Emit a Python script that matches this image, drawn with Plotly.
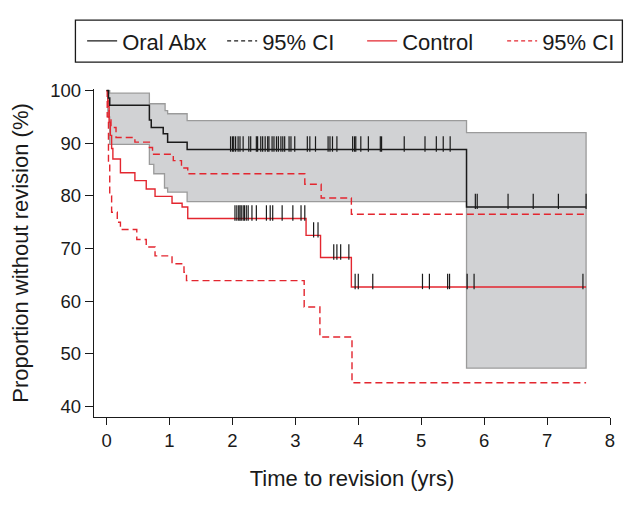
import plotly.graph_objects as go

# Kaplan-Meier step data: (time in years, % without revision)
abx_t = [0, 0.03, 0.05, 0.68, 0.71, 0.90, 0.97, 1.28, 5.72]
abx_v = [100, 98.6, 97.2, 94.4, 93.0, 91.8, 90.2, 88.8, 77.9]
abx_hi_t = [0, 0.05, 0.68, 0.93, 0.97, 1.28, 5.72]
abx_hi_v = [100, 99.5, 97.5, 96.2, 95.6, 94.3, 92.0]
abx_lo_t = [0, 0.02, 0.05, 0.68, 0.75, 0.92, 0.97, 1.28, 5.72]
abx_lo_v = [100, 95.0, 89.8, 86.0, 84.2, 81.5, 80.7, 78.9, 47.3]
abx_end = 7.62

ctl_t = [0, 0.02, 0.04, 0.06, 0.08, 0.10, 0.22, 0.45, 0.63, 0.77, 1.04, 1.20, 1.29, 3.17, 3.40, 3.89]
ctl_v = [100, 97.0, 94.0, 91.5, 89.0, 87.0, 84.4, 82.9, 81.3, 79.9, 78.6, 77.9, 75.7, 72.5, 68.3, 62.7]
ctl_hi_t = [0, 0.02, 0.04, 0.07, 0.15, 0.45, 0.68, 0.73, 1.06, 1.19, 1.29, 3.15, 3.41, 3.89]
ctl_hi_v = [100, 98.0, 95.0, 93.0, 91.1, 90.2, 89.2, 87.9, 86.7, 85.3, 84.2, 82.2, 79.6, 76.5]
ctl_lo_t = [0, 0.01, 0.03, 0.05, 0.08, 0.17, 0.22, 0.48, 0.63, 0.77, 1.04, 1.23, 1.27, 3.14, 3.39, 3.90]
ctl_lo_v = [100, 95.0, 86.0, 80.0, 76.9, 75.0, 73.6, 71.7, 70.3, 68.6, 67.1, 65.5, 63.9, 58.9, 53.2, 44.5]
ctl_end = 7.62

# censored observations
abx_cens = [1.97, 2.00, 2.02, 2.05, 2.09, 2.12, 2.17, 2.26, 2.29, 2.38, 2.40, 2.45,
            2.48, 2.52, 2.56, 2.58, 2.63, 2.66, 2.70, 2.73, 2.77, 2.80, 2.83, 2.90,
            2.93, 2.99, 3.19, 3.23, 3.32, 3.52, 3.55, 3.59, 3.66, 3.91, 3.94, 3.96,
            4.04, 4.16, 4.35, 4.37, 4.73, 5.06, 5.24, 5.35, 5.46,
            5.86, 5.89, 6.38, 6.78, 7.18, 7.62]
ctl_cens = [2.04, 2.07, 2.10, 2.12, 2.14, 2.17, 2.19, 2.22, 2.25, 2.31, 2.38, 2.54,
            2.60, 2.64, 2.79, 2.96, 3.09, 3.15, 3.29, 3.36, 3.61, 3.66, 3.72, 3.85,
            3.95, 4.00, 4.23, 5.02, 5.13, 5.42, 5.45, 5.73, 5.84, 7.57]

RED = "#e3262f"
INK = "#1a1a1a"
FONT = "Liberation Sans, Arial, sans-serif"


def step_xy(t, v, end):
    # expand step function into vertices
    xs, ys = [], []
    for i in range(len(t)):
        if i > 0:
            xs.append(t[i]); ys.append(v[i - 1])
        xs.append(t[i]); ys.append(v[i])
    xs.append(end); ys.append(v[-1])
    return xs, ys


def value_at(t, v, x):
    val = v[0]
    for ti, vi in zip(t, v):
        if ti <= x:
            val = vi
    return val


fig = go.Figure()

# grey confidence band for oral antibiotics
ux, uy = step_xy(abx_hi_t, abx_hi_v, abx_end)
lx, ly = step_xy(abx_lo_t, abx_lo_v, abx_end)
fig.add_trace(go.Scatter(x=ux + lx[::-1], y=uy + ly[::-1], mode="lines", fill="toself",
                         fillcolor="#d1d2d4", line=dict(color="#9b9b9b", width=1.3),
                         showlegend=False, hoverinfo="skip"))

# control CIs
x, y = step_xy(ctl_hi_t, ctl_hi_v, ctl_end)
fig.add_trace(go.Scatter(x=x, y=y, mode="lines", line=dict(color=RED, width=1.4, dash="7px,4px"),
                         showlegend=False))
x, y = step_xy(ctl_lo_t, ctl_lo_v, ctl_end)
fig.add_trace(go.Scatter(x=x, y=y, mode="lines", line=dict(color=RED, width=1.4, dash="7px,4px"),
                         showlegend=False))

# survival curves
x, y = step_xy(ctl_t, ctl_v, ctl_end)
fig.add_trace(go.Scatter(x=x, y=y, mode="lines", line=dict(color=RED, width=1.4), showlegend=False))
x, y = step_xy(abx_t, abx_v, abx_end)
fig.add_trace(go.Scatter(x=x, y=y, mode="lines", line=dict(color=INK, width=1.5), showlegend=False))

# censor ticks (drawn above the curve)
tick_h = 2.1
for cens, t, v in [(abx_cens, abx_t, abx_v), (ctl_cens, ctl_t, ctl_v)]:
    fig.add_trace(go.Scatter(
        x=cens, y=[value_at(t, v, c) + tick_h / 2 for c in cens], mode="markers",
        marker=dict(symbol="line-ns", size=11, line=dict(color=INK, width=1.2)),
        showlegend=False, hoverinfo="skip"))

# legend entries
legend_items = [("Oral Abx", INK, "solid"), ("95% CI", INK, "4px,3px"),
                ("Control", RED, "solid"), ("95% CI", RED, "4px,3px")]
for name, col, dash in legend_items:
    fig.add_trace(go.Scatter(x=[None], y=[None], mode="lines", name=name,
                             line=dict(color=col, width=1.4, dash=dash)))

# page body adds an 8px offset, so margins are trimmed to compensate
fig.update_layout(
    width=644, height=512,
    margin=dict(l=83, r=42, t=81, b=103),
    paper_bgcolor="white", plot_bgcolor="white",
    font=dict(family=FONT, size=18, color=INK),
    showlegend=True,
    legend=dict(orientation="h", x=-0.023, y=1.146, xanchor="left", yanchor="middle",
                borderwidth=0, bgcolor="rgba(0,0,0,0)", font=dict(size=22),
                entrywidth=95, entrywidthmode="pixels", traceorder="normal"),
    shapes=[dict(type="rect", xref="paper", yref="paper", x0=-0.036, x1=1.024,
                 y0=1.082, y1=1.21, line=dict(color=INK, width=1.3))],
)
fig.update_xaxes(range=[-0.2, 8], tickvals=list(range(9)), showline=True, linecolor=INK,
                 linewidth=1.3, ticks="outside", ticklen=7, tickcolor=INK, showgrid=False,
                 zeroline=False,
                 title=dict(text="Time to revision (yrs)", font=dict(size=22), standoff=20),
                 tickfont=dict(size=18.5))
fig.update_yaxes(range=[38, 100.3], tickvals=[40, 50, 60, 70, 80, 90, 100], showline=True,
                 linecolor=INK, linewidth=1.3, ticks="outside", ticklen=8,
                 tickcolor=INK, showgrid=False, zeroline=False,
                 title=dict(text="Proportion without revision (%)", font=dict(size=22)),
                 tickfont=dict(size=18.5))

fig.write_html("out.html")
